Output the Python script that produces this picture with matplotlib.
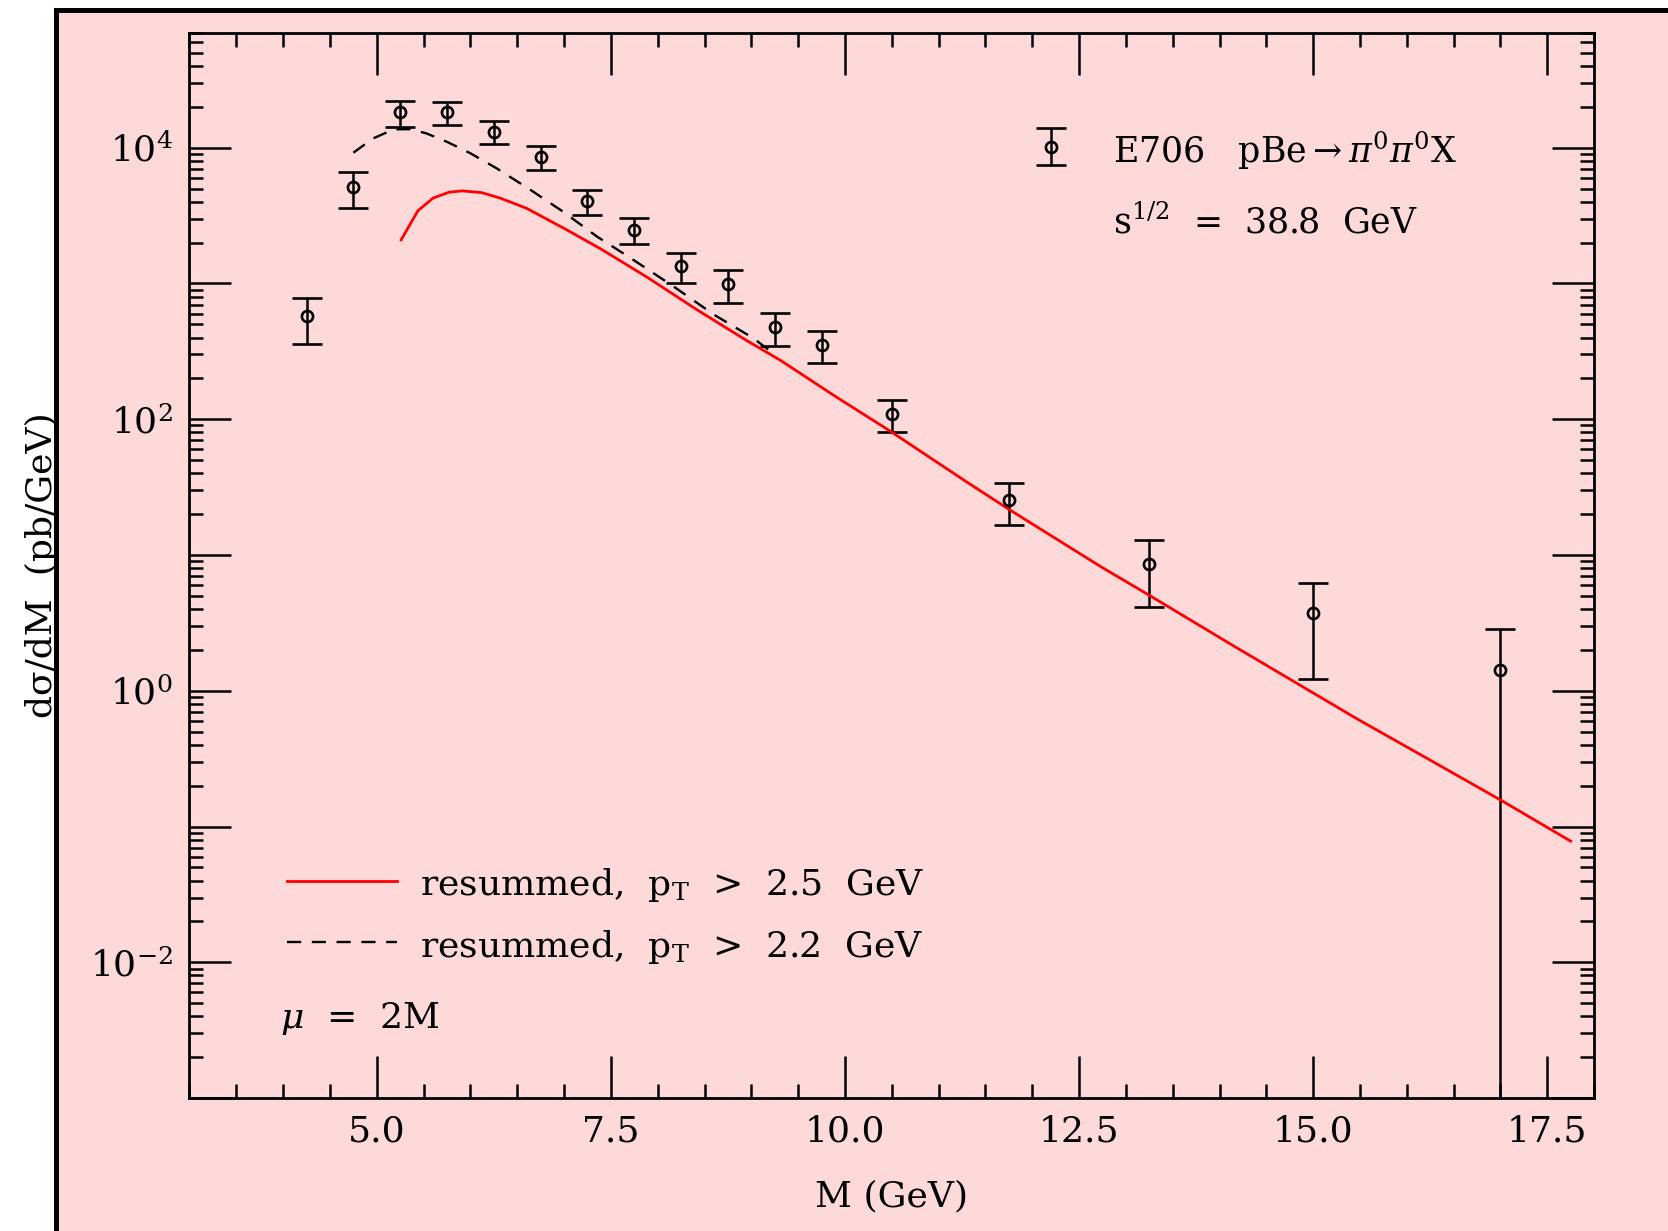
import numpy as np
import matplotlib
matplotlib.use('Agg')
import matplotlib.pyplot as plt
from matplotlib.patches import Rectangle
from matplotlib.ticker import FixedLocator, FuncFormatter, MultipleLocator, NullFormatter

# E706 pBe -> pi0 pi0 X, s^1/2 = 38.8 GeV
mass = [4.25, 4.75, 5.25, 5.75, 6.25, 6.75, 7.25, 7.75, 8.25, 8.75, 9.25, 9.75,
        10.5, 11.75, 13.25, 15.0, 17.0]
xsec = [572, 5120, 18200, 18200, 13100, 8590, 4040, 2480, 1350, 990, 476, 352,
        109, 25.4, 8.55, 3.72, 1.42]
xsec_hi = [782, 6590, 22200, 21800, 15700, 10300, 4860, 3030, 1675, 1248, 605, 444,
           138, 34.0, 13.0, 6.27, 2.85]
xsec_lo = [361, 3620, 14130, 14690, 10590, 6850, 3200, 1950, 1011, 721, 346, 260,
           80.7, 16.5, 4.15, 1.22, 1e-4]

# resummed, pT > 2.5 GeV
m_res25 = [5.26, 5.44, 5.6, 5.77, 5.91, 6.12, 6.32, 6.6, 7.03, 7.39, 7.88, 8.42,
           8.95, 9.31, 9.88, 10.48, 11.3, 11.76, 12.72, 13.26, 14.15, 15.47,
           16.28, 17.0, 17.75]
y_res25 = [2094, 3440, 4250, 4700, 4810, 4670, 4250, 3580, 2480, 1800, 1120, 640,
           380, 272, 150, 82, 34.5, 21.5, 8.3, 5.0, 2.14, 0.62,
           0.30, 0.157, 0.078]

# resummed, pT > 2.2 GeV
m_res22 = [4.75, 4.96, 5.18, 5.36, 5.53, 5.75, 6.0, 6.28, 6.64, 6.99, 7.35, 7.71,
           8.17, 8.6, 9.02, 9.25]
y_res22 = [9190, 11700, 13650, 13700, 12750, 11050, 9100, 7050, 4900, 3380, 2220,
           1540, 950, 590, 396, 300]

xticks = [5.0, 7.5, 10.0, 12.5, 15.0, 17.5]

pink = '#fed9d9'
plt.rcParams['font.family'] = ['DejaVu Serif']
plt.rcParams['mathtext.fontset'] = 'dejavuserif'

fig = plt.figure(figsize=(16.68, 12.31), dpi=100)
fig.patch.set_facecolor('white')
# pink panel with heavy black border running off the right/bottom edge
fig.patches.append(Rectangle((56.5 / 1668, -0.1), 1.2, 1 - 10 / 1231 + 0.1,
                             transform=fig.transFigure, facecolor=pink,
                             edgecolor='black', lw=3.6, zorder=-10))

ax = fig.add_axes([0.1136, 0.1080, 0.8421, 0.8652])
ax.set_zorder(5)
ax.patch.set_visible(False)

y = np.array(xsec)
yerr = [y - np.array(xsec_lo), np.array(xsec_hi) - y]
ax.errorbar(mass, xsec, yerr=yerr, fmt='o', color='black', mfc='none', ms=8,
            mew=1.9, elinewidth=1.8, capsize=11, capthick=1.8)
ax.plot(m_res25, y_res25, color='red', lw=2.0)
ax.plot(m_res22, y_res22, color='black', lw=1.7, dashes=(6, 4.5))

ax.set_yscale('log')
ax.set_xlim(3.0, 18.0)
ax.set_ylim(1e-3, 7e4)

ax.xaxis.set_major_locator(FixedLocator(xticks))
ax.xaxis.set_major_formatter(FuncFormatter(lambda v, p: '%.1f' % v))
ax.xaxis.set_minor_locator(MultipleLocator(0.5))

decades = [10.0 ** e for e in range(-3, 5)]
ax.yaxis.set_major_locator(FixedLocator(decades))
ax.yaxis.set_major_formatter(FuncFormatter(
    lambda v, p: r'$10^{%d}$' % round(np.log10(v)) if round(np.log10(v)) % 2 == 0 else ''))
minors = [k * d for d in [1e-3, 1e-2, 1e-1, 1, 10, 100, 1000, 1e4] for k in range(2, 10)]
ax.yaxis.set_minor_locator(FixedLocator(minors))
ax.yaxis.set_minor_formatter(NullFormatter())

ax.tick_params(which='both', direction='in', top=True, right=True, width=1.8,
               labelsize=26)
ax.tick_params(which='major', length=30, pad=12)
ax.tick_params(which='minor', length=10)
for s in ax.spines.values():
    s.set_linewidth(2.0)

ax.set_xlabel('M (GeV)', fontsize=26)
ax.xaxis.set_label_coords(0.5, -0.076)
ax.set_ylabel('d\u03c3/dM  (pb/GeV)', fontsize=26)
ax.yaxis.set_label_coords(-0.093, 0.5)

# data key, top right
ax.errorbar([0.6134], [0.8932], yerr=[0.0172], fmt='o', color='black', mfc='none',
            ms=8, mew=1.9, elinewidth=1.8, capsize=11, capthick=1.8,
            transform=ax.transAxes, clip_on=False)
ax.text(0.6576, 0.8777, r'E706   pBe$\rightarrow\pi^0\pi^0$X', transform=ax.transAxes,
        fontsize=25, va='baseline')
ax.text(0.6576, 0.8119, r's$^{1/2}$  =  38.8  GeV', transform=ax.transAxes,
        fontsize=25, va='baseline')

# curve key, bottom left
ax.plot([0.0697, 0.1476], [0.2040, 0.2040], color='red', lw=2.0, transform=ax.transAxes)
ax.plot([0.0697, 0.1476], [0.1468, 0.1468], color='black', lw=1.7, dashes=(6, 4.5),
        transform=ax.transAxes)
ax.text(0.1644, 0.1906, r'resummed,  p$_\mathrm{T}$  >  2.5  GeV', transform=ax.transAxes,
        fontsize=26, va='baseline')
ax.text(0.1644, 0.1327, r'resummed,  p$_\mathrm{T}$  >  2.2  GeV', transform=ax.transAxes,
        fontsize=26, va='baseline')
ax.text(0.0645, 0.0654, r'$\mu$  =  2M', transform=ax.transAxes, fontsize=26,
        va='baseline')

fig.savefig('out.png', dpi=100, facecolor=fig.get_facecolor())
